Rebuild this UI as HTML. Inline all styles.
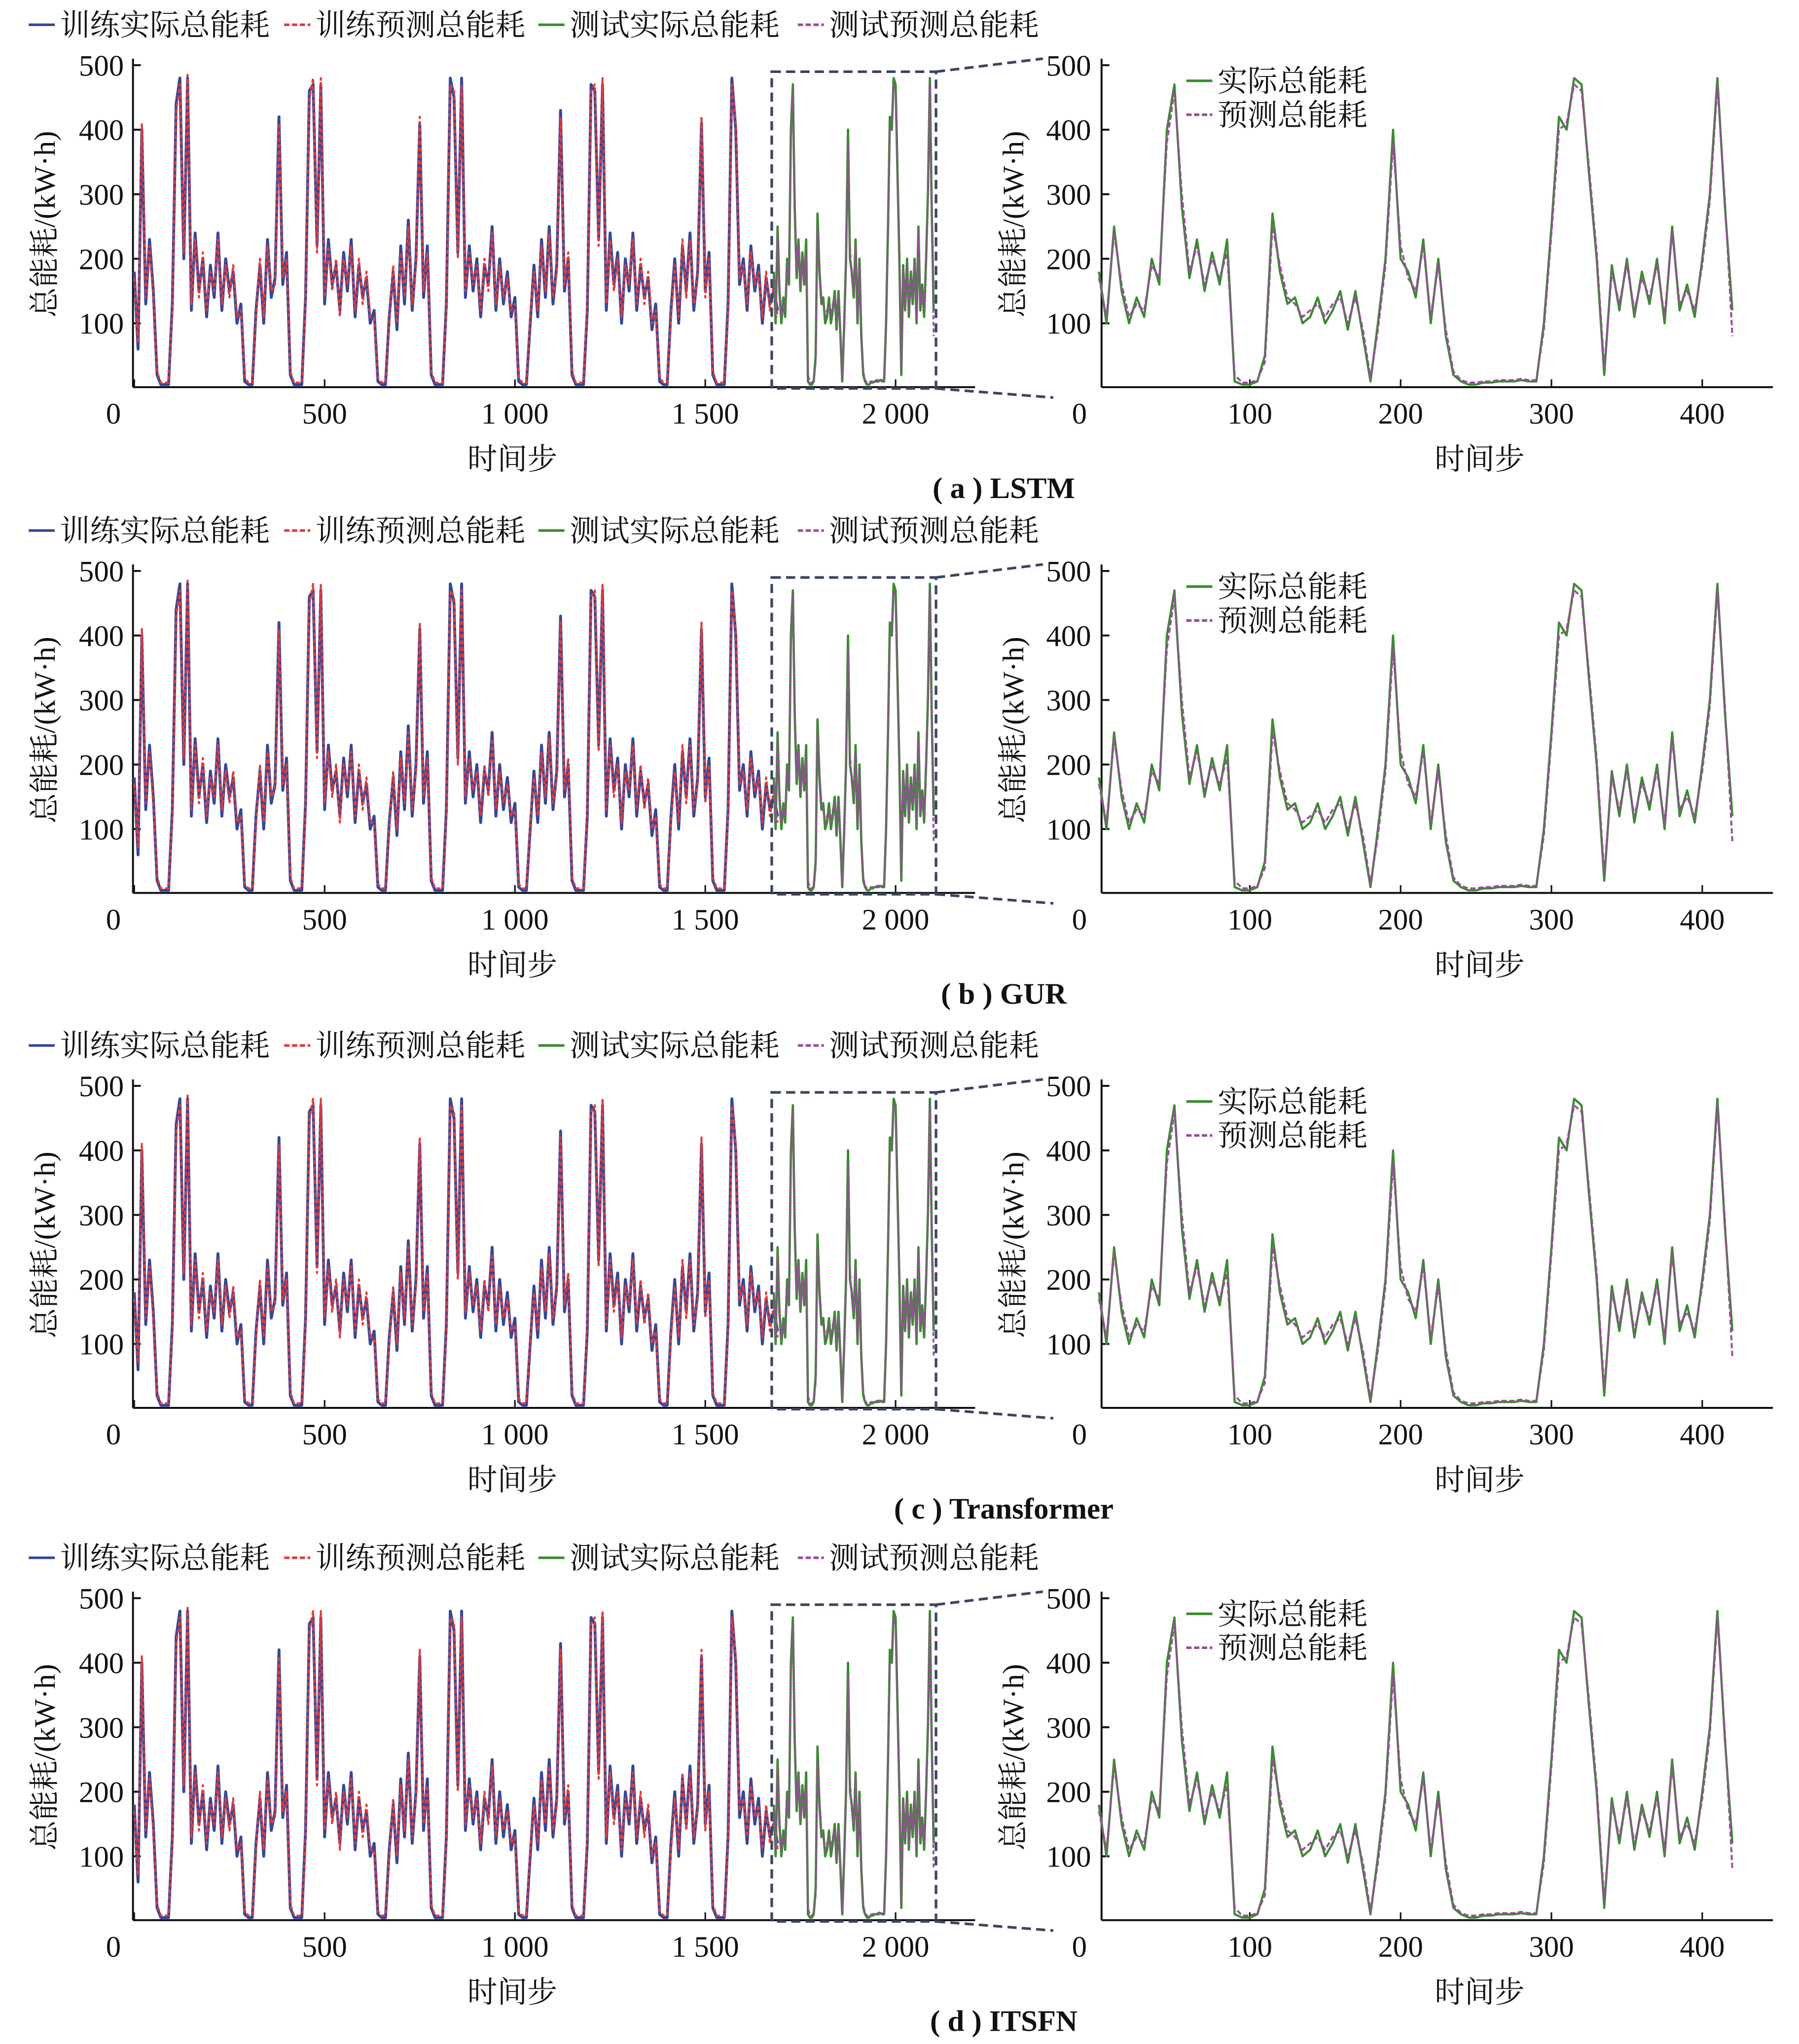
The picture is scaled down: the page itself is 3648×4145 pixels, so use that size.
<!DOCTYPE html>
<html><head><meta charset="utf-8"><style>
html,body{margin:0;padding:0;background:#fff;}
svg{display:block;}
text{font-family:"Liberation Serif","Noto Serif CJK SC",serif;fill:#111;}
</style></head><body>
<svg id="chart" width="3648" height="4145" viewBox="0 0 1380 1568" preserveAspectRatio="none" xmlns="http://www.w3.org/2000/svg"></svg>
<script>
const trainActual=[180,60,400,130,230,150,20,5,5,5,130,440,480,200,480,120,240,150,200,110,190,140,240,120,200,150,180,100,130,10,5,5,120,190,100,230,140,
170,420,160,210,20,5,5,5,140,460,470,220,470,130,230,160,190,120,210,150,230,110,190,140,170,100,120,10,5,5,110,180,90,220,130,260,120,
200,410,140,220,20,5,5,5,130,480,450,210,480,140,220,150,200,110,190,160,250,120,200,130,180,110,140,10,5,5,100,190,110,230,140,250,130,
190,430,150,200,20,5,5,5,120,470,460,230,470,120,240,160,210,100,200,150,240,120,190,140,170,90,130,10,5,5,120,200,100,220,150,240,120,
180,410,150,210,20,5,5,5,130,480,400,160,200,120,220,150,190,100,170,130,150,120];
const trainPred=[170,70,410,140,220,140,25,8,8,8,120,430,470,210,485,130,230,140,210,120,180,150,230,130,190,140,190,110,120,15,8,8,110,200,110,220,150,
160,410,170,200,25,8,8,8,130,450,480,210,480,140,220,150,200,110,200,160,220,120,200,130,180,110,110,15,8,8,100,190,100,210,140,250,130,
190,420,150,210,25,8,8,8,120,470,460,200,470,150,210,160,190,120,200,150,240,130,190,140,170,120,130,15,8,8,110,180,120,220,150,240,140,
180,420,160,210,25,8,8,8,130,460,470,220,480,130,230,150,200,110,190,160,230,130,200,130,180,100,120,15,8,8,110,190,110,230,140,230,130,
170,420,140,200,25,8,8,8,120,470,410,170,190,130,210,160,180,110,180,120,160,110];
const testActual=[180,100,250,150,100,140,110,200,160,400,470,280,170,230,150,210,160,230,10,5,5,10,50,270,180,130,140,100,110,140,100,120,150,90,150,80,10,100,200,400,200,180,140,230,100,200,80,20,10,5,5,8,8,10,10,10,12,10,10,100,250,420,400,480,470,330,200,20,190,120,200,110,180,130,200,100,250,120,160,110,200,300,480,280,120];
const testPred=[170,110,240,160,110,130,120,190,170,380,460,300,180,220,160,200,170,210,20,8,8,12,40,250,190,140,130,110,120,130,110,130,140,100,140,90,15,90,190,380,220,170,150,220,110,190,90,25,12,8,8,10,10,12,12,12,14,12,12,90,240,400,410,470,460,340,210,30,180,130,190,120,170,140,190,110,240,130,150,120,190,290,470,290,80];
const trainStep=10, testStep=5, testStart=1680;
const yTicks=[100,200,300,400,500];
const xTicksL=[0,500,1000,1500,2000];
const xTickLabelsL=["0","500","1 000","1 500","2 000"];
const xTicksR=[100,200,300,400];
const captions=["( a ) LSTM","( b ) GUR","( c ) Transformer","( d ) ITSFN"];
const offsets=[0,388,783,1176];

const NS="http://www.w3.org/2000/svg";
const svg=document.getElementById('chart');
function mk(tag,attrs,parent){const e=document.createElementNS(NS,tag);for(const k in attrs)e.setAttribute(k,attrs[k]);(parent||svg).appendChild(e);return e;}
function txt(s,x,y,size,anchor,parent){const t=mk('text',{x:x,y:y,'font-size':size,'text-anchor':anchor||'middle'},parent);t.textContent=s;return t;}
const xL=s=>103+s*146/500, xR=s=>843+s*1.157;
function yS(v,dy){return dy+297.5-v*0.495;}
function line(arr,step,start,xf,dy,color,dash,w,parent){
  const pts=arr.map((v,i)=>xf(start+i*step).toFixed(1)+','+yS(v,dy).toFixed(1)).join(' ');
  const p=mk('polyline',{points:pts,fill:'none',stroke:color,'stroke-width':w,'stroke-linejoin':'round'},parent);
  if(dash)p.setAttribute('stroke-dasharray',dash);
  return p;
}
const BLUE='#34479a',RED='#e23a3a',GREEN='#3d8a33',PURPLE='#9b4a9e';
offsets.forEach((dy,pi)=>{
  const g=mk('g',{});
  
  
  const leg=[[22,'训练实际总能耗',BLUE,null],[218,'训练预测总能耗',RED,'4,2'],[413,'测试实际总能耗',GREEN,null],[612,'测试预测总能耗',PURPLE,'4,2']];
  leg.forEach(l=>{
    const lg=mk('g',{},g);
    
    
    const ln=mk('line',{x1:l[0],x2:l[0]+20,y1:dy+19,y2:dy+19,stroke:l[2],'stroke-width':2},lg);
    if(l[3])ln.setAttribute('stroke-dasharray',l[3]);
    txt(l[1],l[0]+24,dy+27,23,'start',lg);
  });
  mk('line',{x1:102,y1:dy+45,x2:102,y2:dy+297,stroke:'#111','stroke-width':1.5},g);
  mk('line',{x1:102,y1:dy+297,x2:748,y2:dy+297,stroke:'#111','stroke-width':1.5},g);
  yTicks.forEach(v=>{mk('line',{x1:102,x2:108,y1:yS(v,dy),y2:yS(v,dy),stroke:'#111','stroke-width':1.5},g);txt(String(v),95,yS(v,dy)+8,23,'end',g);});
  xTicksL.forEach((v,i)=>{mk('line',{x1:xL(v),x2:xL(v),y1:dy+297,y2:dy+291,stroke:'#111','stroke-width':1.2},g);txt(xTickLabelsL[i],i==0?87:xL(v),dy+325,23,'middle',g);});
  const yl=txt('总能耗/(kW·h)',0,0,23,'middle',g);yl.setAttribute('transform','translate(42,'+(dy+172)+') rotate(-90)');
  txt('时间步',393,dy+360,23,'middle',g);
  line(trainActual,trainStep,0,xL,dy,BLUE,null,2.2,g);
  line(trainPred,trainStep,0,xL,dy,RED,'3,2',1.6,g);
  line(testActual,testStep,testStart,xL,dy,GREEN,null,1.8,g);
  line(testPred,testStep,testStart,xL,dy,PURPLE,'3,2',1.4,g);
  mk('rect',{x:592,y:dy+55,width:126,height:243,fill:'none',stroke:'#3b4560','stroke-width':2,'stroke-dasharray':'7,4'},g);
  mk('line',{x1:718,y1:dy+55,x2:800,y2:dy+45,stroke:'#3b4560','stroke-width':2,'stroke-dasharray':'7,4'},g);
  mk('line',{x1:718,y1:dy+298,x2:808,y2:dy+305,stroke:'#3b4560','stroke-width':2,'stroke-dasharray':'7,4'},g);
  mk('line',{x1:845,y1:dy+45,x2:845,y2:dy+297,stroke:'#111','stroke-width':1.5},g);
  mk('line',{x1:845,y1:dy+297,x2:1360,y2:dy+297,stroke:'#111','stroke-width':1.5},g);
  yTicks.forEach(v=>{mk('line',{x1:845,x2:851,y1:yS(v,dy),y2:yS(v,dy),stroke:'#111','stroke-width':1.5},g);txt(String(v),837,yS(v,dy)+8,23,'end',g);});
  txt('0',828,dy+325,23,'middle',g);
  xTicksR.forEach(v=>{mk('line',{x1:xR(v),x2:xR(v),y1:dy+297,y2:dy+291,stroke:'#111','stroke-width':1.2},g);txt(String(v),xR(v),dy+325,23,'middle',g);});
  const yr=txt('总能耗/(kW·h)',0,0,23,'middle',g);yr.setAttribute('transform','translate(785,'+(dy+172)+') rotate(-90)');
  txt('时间步',1135,dy+360,23,'middle',g);
  line(testActual,testStep,0,xR,dy,GREEN,null,1.7,g);
  line(testPred,testStep,0,xR,dy,PURPLE,'4,2',1.5,g);
  const r1=mk('g',{},g);
  mk('line',{x1:910,x2:930,y1:dy+62,y2:dy+62,stroke:GREEN,'stroke-width':2},r1);txt('实际总能耗',934,dy+70,23,'start',r1);
  const r2=mk('g',{},g);
  mk('line',{x1:910,x2:930,y1:dy+88,y2:dy+88,stroke:PURPLE,'stroke-width':2,'stroke-dasharray':'4,2'},r2);txt('预测总能耗',934,dy+96,23,'start',r2);
  const c=txt(captions[pi],770,dy+382,23,'middle',g);
  c.setAttribute('font-weight','bold');
  
  
});
</script>
</body></html>
